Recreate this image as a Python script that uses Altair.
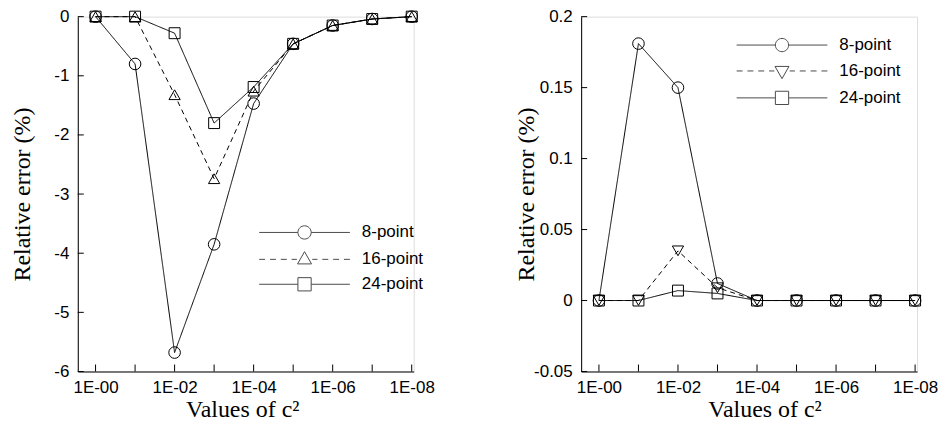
import altair as alt
import pandas as pd

# ---------------- data ----------------
x_idx = [0, 1, 2, 3, 4, 5, 6, 7, 8]          # 1E-00 ... 1E-08
series = ["8-point", "16-point", "24-point"]

left_8 = [0, -0.80, -5.68, -3.85, -1.47, -0.46, -0.15, -0.04, 0]
left_16 = [0, 0, -1.32, -2.74, -1.26, -0.46, -0.15, -0.04, 0]
left_24 = [0, 0, -0.28, -1.80, -1.19, -0.46, -0.15, -0.04, 0]

right_8 = [0, 0.181, 0.150, 0.012, 0, 0, 0, 0, 0]
right_16 = [0, 0, 0.035, 0.009, 0, 0, 0, 0, 0]
right_24 = [0, 0, 0.007, 0.005, 0, 0, 0, 0, 0]

left_yticks = [-6, -5, -4, -3, -2, -1, 0]
right_yticks = [-0.05, 0, 0.05, 0.1, 0.15, 0.2]
x_label_values = [0, 2, 4, 6, 8]

x_title = "Values of c\u00b2"
y_title = "Relative error (%)"

# ---------------- styling ----------------
W, H = 337, 356
LABEL_FONT = "Liberation Sans"
TITLE_FONT = "Liberation Serif"

# legend symbols: line + marker, custom paths in units of 7 px
# (symbolSize 196 -> scale sqrt(196)/2 = 7 px per unit)
L = 6.5      # half line length (45.5 px)
R = 0.95     # marker radius (6.65 px)
circle_p = (f"M-{L},0H-{R}M{R},0H{L}"
            f"M{R},0A{R},{R},0,1,1,-{R},0A{R},{R},0,1,1,{R},0Z")
S = 0.95
square_p = f"M-{L},0H-{S}M{S},0H{L}M-{S},-{S}H{S}V{S}H-{S}Z"
dash_segments = [(-6.5, -5.65), (-4.95, -4.1), (-3.4, -2.55), (-1.85, -1.1)]
dash_l = "".join(f"M{a},0H{b}" for a, b in dash_segments)
dash_r = "".join(f"M{-b},0H{-a}" for a, b in dash_segments)
tri_up_p = dash_l + dash_r + "M0,-1.1L1.0,0.65L-1.0,0.65Z"
tri_down_p = dash_l + dash_r + "M0,1.1L1.0,-0.65L-1.0,-0.65Z"


def make_panel(v8, v16, v24, ydomain, yticks, ylabel_expr, mid_shape,
               legend_path16, legend_x, legend_y, xtitle_x):
    df = pd.DataFrame({
        "idx": x_idx * 3,
        "series": [series[0]] * 9 + [series[1]] * 9 + [series[2]] * 9,
        "value": v8 + v16 + v24,
    })
    xticks_df = pd.DataFrame({"t": x_idx})
    yticks_df = pd.DataFrame({"v": yticks})

    xs = alt.Scale(domain=[-0.45, 8.05], nice=False, zero=False)
    ys = alt.Scale(domain=ydomain, nice=False, zero=False)

    xaxis = alt.Axis(
        values=x_label_values,
        labelExpr="'1E-0' + datum.value",
        title=x_title, ticks=False, tickSize=0, grid=False,
        labelFlush=False, labelOverlap=False, labelPadding=8,
        labelFont=LABEL_FONT, labelFontSize=17, labelColor="black",
        titleFont=TITLE_FONT, titleFontSize=24, titleFontWeight="normal",
        titleColor="black", titleX=xtitle_x, titleY=45,
        titleBaseline="alphabetic", titleAlign="center",
        domainColor="black", domainWidth=1,
    )
    yaxis = alt.Axis(
        values=yticks, labelExpr=ylabel_expr,
        title=y_title, ticks=False, tickSize=0, grid=False,
        labelFlush=False, labelOverlap=False, labelPadding=9,
        labelFont=LABEL_FONT, labelFontSize=17, labelColor="black",
        titleFont=TITLE_FONT, titleFontSize=24, titleFontWeight="normal",
        titleColor="black", titleX=-55, titleY=H / 2, titleAngle=-90,
        titleBaseline="middle", titleAlign="center",
        domainColor="black", domainWidth=1,
    )

    x_enc = alt.X("idx:Q", scale=xs, axis=xaxis)
    y_enc = alt.Y("value:Q", scale=ys, axis=yaxis)

    lines = alt.Chart(df).mark_line(color="black", strokeWidth=1).encode(
        x=x_enc, y=y_enc,
        detail="series:N",
        strokeDash=alt.StrokeDash(
            "series:N",
            scale=alt.Scale(domain=series, range=[[1, 0], [5, 4], [1, 0]]),
            legend=None),
    )
    points = alt.Chart(df).mark_point(
        filled=False, color="black", strokeWidth=1, opacity=1
    ).encode(
        x=x_enc, y=y_enc,
        shape=alt.Shape("series:N",
                        scale=alt.Scale(domain=series,
                                        range=["circle", mid_shape, "square"]),
                        legend=None),
        size=alt.Size("series:N",
                      scale=alt.Scale(domain=series, range=[135, 120, 165]),
                      legend=None),
    )
    legend_layer = alt.Chart(df).transform_filter("false").mark_point(
        filled=False, color="black", strokeWidth=1
    ).encode(
        x=x_enc, y=y_enc,
        shape=alt.Shape(
            "series:N",
            scale=alt.Scale(domain=series,
                            range=[circle_p, legend_path16, square_p]),
            legend=alt.Legend(
                title=None, orient="none", legendX=legend_x, legendY=legend_y,
                symbolSize=196, symbolStrokeWidth=1,
                symbolStrokeColor="black", symbolFillColor="transparent",
                labelFont=LABEL_FONT, labelFontSize=17, labelColor="black",
                labelOffset=49, rowPadding=7, padding=0, symbolOffset=0,
            ),
        ),
    )
    xt = alt.Chart(xticks_df).mark_rule(color="black", strokeWidth=1).encode(
        x=alt.X("t:Q", scale=xs), y=alt.value(H), y2=alt.value(H - 7))
    yt = alt.Chart(yticks_df).mark_rule(color="black", strokeWidth=1).encode(
        y=alt.Y("v:Q", scale=ys), x=alt.value(0), x2=alt.value(6))

    return alt.layer(xt, yt, lines, points, legend_layer).resolve_scale(
        shape="independent").properties(width=W, height=H)


left = make_panel(left_8, left_16, left_24, [-6, 0], left_yticks,
                  "'' + datum.value", "triangle-up", tri_up_p,
                  219, 208, 165)
right = make_panel(right_8, right_16, right_24, [-0.05, 0.2], right_yticks,
                   "'' + round(datum.value * 100) / 100", "triangle-down",
                   tri_down_p, 193, 20, 184)

chart = alt.hconcat(left, right, spacing=78).properties(
    padding={"left": 2, "top": -2, "right": 0, "bottom": 0}
).configure_view(stroke=None).configure(background="white")

chart.save("out.html", embed_options={"renderer": "svg", "actions": False})
